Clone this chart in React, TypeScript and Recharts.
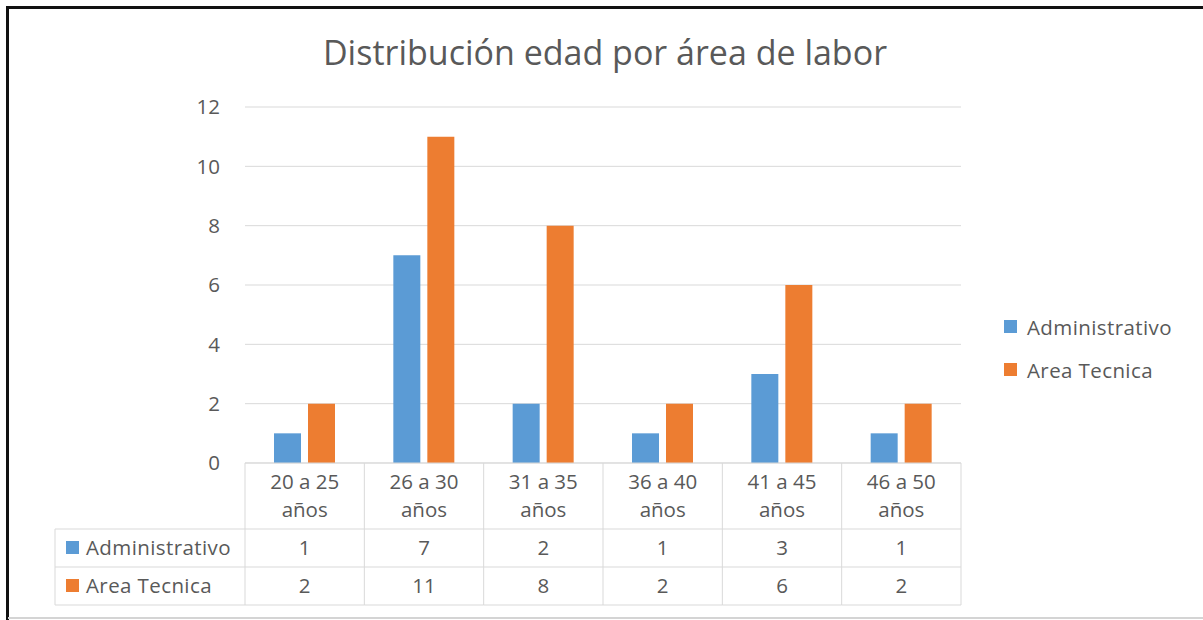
import React from 'react';
import { BarChart, Bar, XAxis, YAxis, CartesianGrid, Legend } from 'recharts';

const categories = ['20 a 25 años', '26 a 30 años', '31 a 35 años', '36 a 40 años', '41 a 45 años', '46 a 50 años'];
const administrativo = [1, 7, 2, 1, 3, 1];
const areaTecnica = [2, 11, 8, 2, 6, 2];
const yTicks = [0, 2, 4, 6, 8, 10, 12];
const seriesNames = ['Administrativo', 'Area Tecnica'];
const seriesColors = ['#5B9BD5', '#ED7D31'];
const title = 'Distribución edad por área de labor';

const data = categories.map((c, i) => ({ name: c, adm: administrativo[i], tec: areaTecnica[i] }));
const seriesValues = [administrativo, areaTecnica];

const W = 1203;
const H = 620;
const MARGIN = { top: 107, right: 242, bottom: 15, left: 0 };
const Y_AXIS_W = 245;
const X_AXIS_H = 142;
const BAND = (W - MARGIN.right - MARGIN.left - Y_AXIS_W) / categories.length;
const FONT = '"Open Sans", "Noto Sans", sans-serif';
const TXT = '#595959';
const LINE = '#d9d9d9';
const FS = 20.5;
const LS = 0.4;
const ROW1 = 66;
const ROW = 38;
const HEADER_LEFT = 55;

const splitLabel = (s: string) => {
  const k = s.lastIndexOf(' ');
  return [s.slice(0, k), s.slice(k + 1)];
};

const TableTick = (props: any) => {
  const { x, y, payload } = props;
  const i = props.index ?? payload.index ?? categories.indexOf(payload.value);
  const half = BAND / 2;
  const left = x - half;
  const right = x + half;
  const r1 = y + ROW1;
  const r2 = r1 + ROW;
  const r3 = r2 + ROW;
  const [l1, l2] = splitLabel(String(payload.value));
  const textProps = { fontFamily: FONT, fontSize: FS, fill: TXT, textAnchor: 'middle' as const };
  return (
    <g>
      {i === 0 && (
        <g>
          <line x1={left} y1={y} x2={left} y2={r3} stroke={LINE} />
          <line x1={HEADER_LEFT} y1={r1} x2={left} y2={r1} stroke={LINE} />
          <line x1={HEADER_LEFT} y1={r2} x2={left} y2={r2} stroke={LINE} />
          <line x1={HEADER_LEFT} y1={r3} x2={left} y2={r3} stroke={LINE} />
          <line x1={HEADER_LEFT} y1={r1} x2={HEADER_LEFT} y2={r3} stroke={LINE} />
          {seriesNames.map((n, k) => (
            <g key={n}>
              <rect x={HEADER_LEFT + 11} y={r1 + k * ROW + 12} width={13} height={13} fill={seriesColors[k]} />
              <text x={HEADER_LEFT + 31} y={r1 + k * ROW + ROW / 2} dy="0.35em" fontFamily={FONT} fontSize={FS} letterSpacing={LS} fill={TXT}>
                {n}
              </text>
            </g>
          ))}
        </g>
      )}
      <line x1={right} y1={y} x2={right} y2={r3} stroke={LINE} />
      <line x1={left} y1={r1} x2={right} y2={r1} stroke={LINE} />
      <line x1={left} y1={r2} x2={right} y2={r2} stroke={LINE} />
      <line x1={left} y1={r3} x2={right} y2={r3} stroke={LINE} />
      <text x={x} y={y + 19} dy="0.35em" {...textProps}>{l1}</text>
      <text x={x} y={y + 47} dy="0.35em" {...textProps}>{l2}</text>
      {seriesValues.map((vals, k) => (
        <text key={k} x={x} y={r1 + k * ROW + ROW / 2} dy="0.35em" {...textProps}>
          {vals[i]}
        </text>
      ))}
    </g>
  );
};

const LegendContent = () => (
  <div style={{ fontFamily: FONT, fontSize: FS, color: TXT, letterSpacing: LS }}>
    {seriesNames.map((n, k) => (
      <div key={n} style={{ display: 'flex', alignItems: 'center', height: 43 }}>
        <span style={{ display: 'inline-block', width: 13, height: 13, background: seriesColors[k], marginRight: 10 }} />
        <span>{n}</span>
      </div>
    ))}
  </div>
);

export default function App() {
  return (
    <div style={{ position: 'absolute', left: 0, top: 0, width: W, height: H, background: '#fff', overflow: 'hidden' }}>
      <div style={{ position: 'absolute', left: 6, top: 6, width: W - 6, height: 2.5, background: '#111' }} />
      <div style={{ position: 'absolute', left: 6, top: 6, width: 2.5, height: H - 6, background: '#111' }} />
      <div style={{ position: 'absolute', left: 8, top: 617, width: W - 8, height: 1.5, background: '#d4d4d4' }} />
      <div
        style={{
          position: 'absolute',
          left: 0,
          width: 1210,
          top: 29,
          textAlign: 'center',
          fontFamily: FONT,
          fontSize: 34,
          color: TXT,
          lineHeight: '46px',
        }}
      >
        {title}
      </div>
      <BarChart width={W} height={H} data={data} margin={MARGIN} barSize={27} barGap={7}>
        <CartesianGrid vertical={false} stroke={LINE} />
        <XAxis
          dataKey="name"
          height={X_AXIS_H}
          axisLine={{ stroke: LINE }}
          tickLine={false}
          tickSize={0}
          tickMargin={0}
          interval={0}
          tick={<TableTick />}
        />
        <YAxis
          width={Y_AXIS_W}
          domain={[0, 12]}
          ticks={yTicks}
          axisLine={false}
          tickLine={false}
          tickMargin={19}
          tick={{ fill: TXT, fontSize: FS, fontFamily: FONT }}
        />
        <Legend
          layout="vertical"
          align="center"
          verticalAlign="middle"
          wrapperStyle={{ left: 1004, top: 305, width: 199 }}
          content={<LegendContent />}
        />
        <Bar dataKey="adm" name={seriesNames[0]} fill={seriesColors[0]} isAnimationActive={false} />
        <Bar dataKey="tec" name={seriesNames[1]} fill={seriesColors[1]} isAnimationActive={false} />
      </BarChart>
    </div>
  );
}
